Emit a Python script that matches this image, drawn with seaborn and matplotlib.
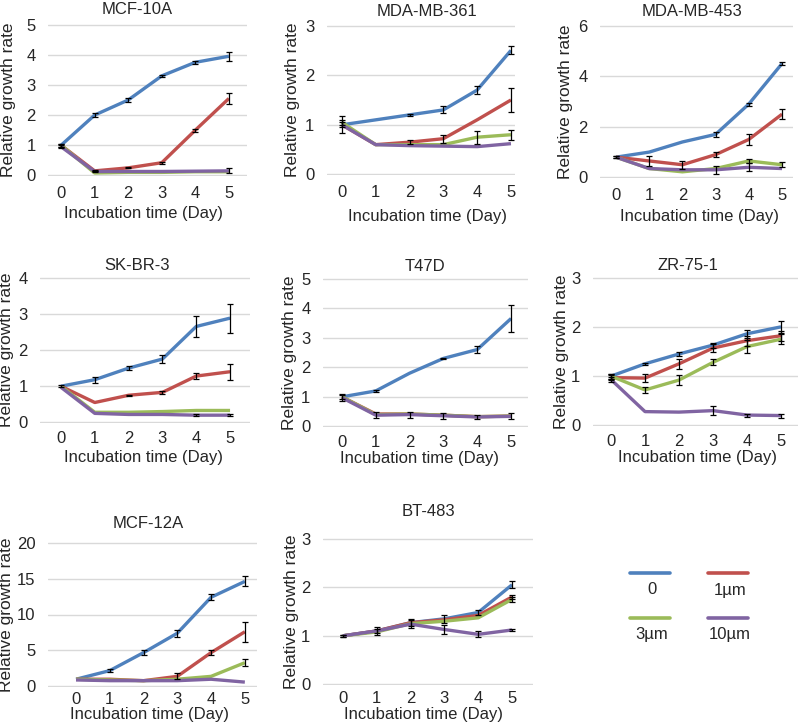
import numpy as np
import pandas as pd
import seaborn as sns
import matplotlib.pyplot as plt

# incubation days and treatment doses
days = [0, 1, 2, 3, 4, 5]
doses = ['0', '1µm', '3µm', '10µm']
colors = ['#4F81BD', '#C0504D', '#9BBB59', '#8064A2']

# relative growth rate per cell line (one list per dose) and error bars
mcf10a = {'0': [1.0, 2.0, 2.5, 3.3, 3.75, 3.95],
          '1µm': [1.0, 0.15, 0.25, 0.42, 1.5, 2.55],
          '3µm': [1.0, 0.08, 0.1, 0.1, 0.12, 0.12],
          '10µm': [0.95, 0.13, 0.13, 0.13, 0.14, 0.15]}
mcf10a_err = {'0': [0.05, 0.06, 0.07, 0.04, 0.04, 0.15],
              '1µm': [0.05, 0.02, 0.02, 0.03, 0.05, 0.18],
              '3µm': [0, 0, 0, 0, 0, 0],
              '10µm': [0.05, 0.02, 0, 0, 0, 0.08]}

mdamb361 = {'0': [1.0, 1.1, 1.2, 1.3, 1.7, 2.5],
            '1µm': [1.0, 0.6, 0.65, 0.72, 1.1, 1.5],
            '3µm': [1.05, 0.6, 0.6, 0.6, 0.75, 0.8],
            '10µm': [1.0, 0.6, 0.58, 0.57, 0.56, 0.62]}
mdamb361_err = {'0': [0.17, 0, 0.02, 0.07, 0.08, 0.08],
                '1µm': [0.05, 0, 0.04, 0.08, 0, 0.25],
                '3µm': [0.05, 0, 0, 0, 0.13, 0.1],
                '10µm': [0, 0, 0, 0, 0, 0]}

mdamb453 = {'0': [0.8, 1.0, 1.4, 1.7, 2.9, 4.5],
            '1µm': [0.8, 0.65, 0.5, 0.9, 1.5, 2.5],
            '3µm': [0.8, 0.35, 0.22, 0.35, 0.65, 0.5],
            '10µm': [0.8, 0.35, 0.3, 0.3, 0.4, 0.35]}
mdamb453_err = {'0': [0.03, 0, 0, 0.1, 0.06, 0.06],
                '1µm': [0.03, 0.18, 0.15, 0.1, 0.2, 0.2],
                '3µm': [0, 0, 0, 0, 0.08, 0.1],
                '10µm': [0, 0, 0, 0.15, 0.15, 0]}

skbr3 = {'0': [1.0, 1.18, 1.5, 1.75, 2.65, 2.88],
         '1µm': [1.0, 0.55, 0.75, 0.83, 1.28, 1.4],
         '3µm': [1.0, 0.28, 0.28, 0.3, 0.33, 0.33],
         '10µm': [0.97, 0.25, 0.22, 0.22, 0.2, 0.2]}
skbr3_err = {'0': [0.02, 0.08, 0.05, 0.1, 0.3, 0.4],
             '1µm': [0, 0, 0.02, 0.05, 0.08, 0.22],
             '3µm': [0, 0, 0, 0, 0, 0],
             '10µm': [0, 0, 0, 0, 0.03, 0.03]}

t47d = {'0': [1.0, 1.2, 1.8, 2.3, 2.6, 3.65],
        '1µm': [1.0, 0.42, 0.42, 0.38, 0.33, 0.35],
        '3µm': [1.0, 0.4, 0.42, 0.38, 0.33, 0.35],
        '10µm': [0.97, 0.38, 0.4, 0.36, 0.32, 0.34]}
t47d_err = {'0': [0.08, 0.03, 0, 0.03, 0.12, 0.45],
            '1µm': [0, 0, 0, 0, 0, 0],
            '3µm': [0, 0, 0, 0, 0, 0],
            '10µm': [0.1, 0.1, 0.1, 0.1, 0.08, 0.1]}

zr751 = {'0': [1.0, 1.25, 1.45, 1.63, 1.86, 2.0],
         '1µm': [0.97, 0.96, 1.25, 1.57, 1.72, 1.82],
         '3µm': [1.0, 0.72, 0.92, 1.28, 1.6, 1.75],
         '10µm': [0.93, 0.28, 0.27, 0.3, 0.21, 0.2]}
zr751_err = {'0': [0.05, 0.02, 0.04, 0.05, 0.08, 0.12],
             '1µm': [0.05, 0.08, 0.1, 0.08, 0.1, 0.1],
             '3µm': [0.05, 0.06, 0.1, 0.06, 0.13, 0.1],
             '10µm': [0.05, 0, 0, 0.09, 0.03, 0.04]}

mcf12a = {'0': [1.0, 2.2, 4.7, 7.4, 12.4, 14.6],
          '1µm': [1.0, 1.0, 0.8, 1.4, 4.7, 7.6],
          '3µm': [1.0, 0.9, 0.8, 1.0, 1.4, 3.3],
          '10µm': [0.9, 0.8, 0.8, 0.8, 1.0, 0.6]}
mcf12a_err = {'0': [0, 0.2, 0.3, 0.5, 0.4, 0.7],
              '1µm': [0, 0, 0, 0.4, 0.4, 1.4],
              '3µm': [0, 0, 0, 0, 0, 0.5],
              '10µm': [0, 0, 0, 0, 0, 0]}

bt483 = {'0': [1.0, 1.1, 1.27, 1.35, 1.48, 2.05],
         '1µm': [1.0, 1.1, 1.27, 1.33, 1.42, 1.8],
         '3µm': [1.0, 1.08, 1.25, 1.3, 1.37, 1.75],
         '10µm': [1.0, 1.1, 1.24, 1.13, 1.03, 1.12]}
bt483_err = {'0': [0.02, 0.05, 0.07, 0.08, 0.05, 0.07],
             '1µm': [0, 0, 0, 0, 0, 0.04],
             '3µm': [0, 0, 0, 0, 0, 0.05],
             '10µm': [0.02, 0.08, 0.08, 0.1, 0.06, 0.03]}

panels = [('MCF-10A', mcf10a, mcf10a_err, 5, 1),
          ('MDA-MB-361', mdamb361, mdamb361_err, 3, 1),
          ('MDA-MB-453', mdamb453, mdamb453_err, 6, 2),
          ('SK-BR-3', skbr3, skbr3_err, 4, 1),
          ('T47D', t47d, t47d_err, 5, 1),
          ('ZR-75-1', zr751, zr751_err, 3, 1),
          ('MCF-12A', mcf12a, mcf12a_err, 20, 5),
          ('BT-483', bt483, bt483_err, 3, 1)]

# layout in pixels: grid left/right, top/zero gridline, xlim, title (x, y),
# ylabel right edge x, xlabel centre (x, y), x tick pad (pt)
W, H = 798, 725
layout = [(48, 247, 24, 176, (-0.39, 5.54), 137, 10, 16, 143, 213, 7.5),
          (327, 515, 25, 175, (-0.44, 5.12), 427, 11, 300, 428, 217, 7.5),
          (600, 793, 25, 178, (-0.48, 5.33), 692, 11, 573, 699, 217, 7.5),
          (40, 250, 277, 423, (-0.62, 5.59), 137, 265, 14, 143, 458, 6),
          (323, 528, 278, 427, (-0.56, 5.50), 425, 267, 297, 420, 459, 6),
          (593, 798, 277, 426, (-0.53, 5.50), 688, 265, 569, 698, 458, 6),
          (48, 257, 542, 687, (-0.83, 5.36), 148, 523, 14, 150, 715, 3.5),
          (323, 533, 538, 685, (-0.59, 5.62), 428, 512, 299, 423, 715, 4)]

sns.set_style('white')
plt.rcParams['font.family'] = ['Liberation Sans', 'DejaVu Sans']

fig = plt.figure(figsize=(W / 100, H / 100), dpi=100)

for (name, vals, errs, ymax, ystep), lay in zip(panels, layout):
    x1, x2, yt, yb, xl, tx, ty, ylx, xlx, xly, xpad = lay
    ax = fig.add_axes([x1 / W, 1 - yb / H, (x2 - x1) / W, (yb - yt) / H])
    df = pd.DataFrame([(d, dose, v) for dose in doses for d, v in zip(days, vals[dose])],
                      columns=['day', 'dose', 'rate'])
    sns.lineplot(data=df, x='day', y='rate', hue='dose', palette=colors,
                 linewidth=2.4, legend=False, errorbar=None, ax=ax)
    for ln in ax.lines:
        ln.set_clip_on(False)
        ln.set_solid_capstyle('butt')
    for dose in doses:
        e = np.array(errs[dose], dtype=float)
        m = e > 0
        if m.any():
            ax.errorbar(np.array(days)[m], np.array(vals[dose])[m], yerr=e[m],
                        fmt='none', ecolor='black', elinewidth=0.9, capsize=2.2,
                        capthick=0.9, clip_on=False, zorder=5)
    ax.set_xlim(*xl)
    ax.set_ylim(-ymax * 0.004, ymax * 1.004)
    ax.set_yticks(np.arange(0, ymax + ystep, ystep))
    ax.set_xticks(days)
    ax.yaxis.grid(True, color='#D9D9D9', linewidth=1.0)
    ax.set_axisbelow(True)
    sns.despine(ax=ax, left=True, bottom=True)
    ax.tick_params(axis='both', length=0, labelsize=12)
    ax.tick_params(axis='y', pad=9)
    ax.tick_params(axis='x', pad=xpad)
    ax.set_xlabel('Incubation time (Day)', fontsize=12)
    ax.set_ylabel('Relative growth rate', fontsize=12.5)
    ax.xaxis.label.set_va('center')
    ax.xaxis.set_label_coords(xlx / W, 1 - xly / H, transform=fig.transFigure)
    ax.yaxis.set_label_coords(ylx / W, 1 - (yt + yb) / 2 / H, transform=fig.transFigure)
    fig.text(tx / W, 1 - ty / H, name, ha='center', va='center', fontsize=12)

# legend: short line key above each label
lg = fig.add_axes([620 / W, 1 - 645 / H, 140 / W, 80 / H])
lg.set_xlim(0, 140)
lg.set_ylim(80, 0)
lg.axis('off')
for i, (dose, c) in enumerate(zip(doses, colors)):
    cx = 30 + 78 * (i % 2)
    ry = 8 + 45 * (i // 2)
    lg.plot([cx - 20, cx + 20], [ry, ry], color=c, linewidth=2.6,
            solid_capstyle='round')
    lg.text(cx + 2, ry + 17, dose, ha='center', va='center', fontsize=12)

plt.savefig('out.png', dpi=100)
